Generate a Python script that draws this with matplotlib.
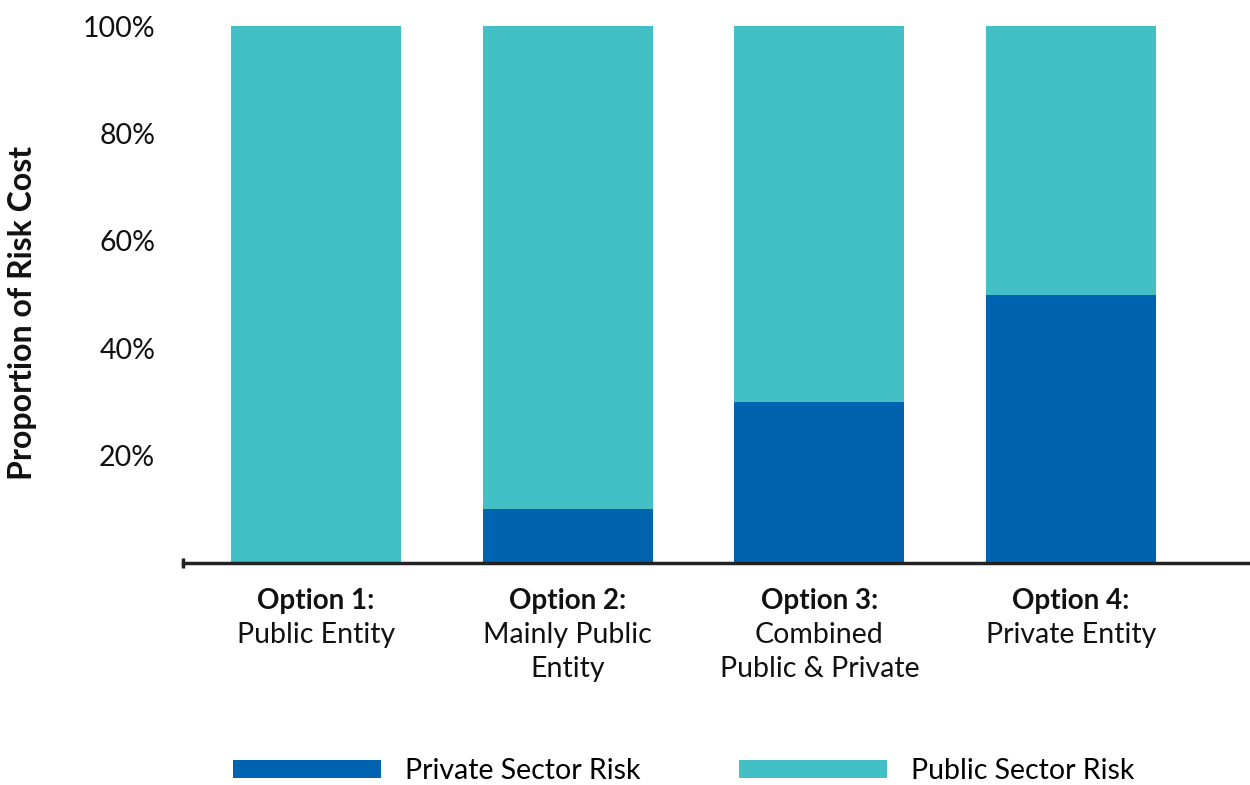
import numpy as np
import matplotlib.pyplot as plt
import matplotlib.transforms as mtransforms

plt.rcParams['font.family'] = ['Lato', 'DejaVu Sans']

# data
options = ["Option 1:", "Option 2:", "Option 3:", "Option 4:"]
descriptions = ["Public Entity", "Mainly Public\nEntity",
                "Combined\nPublic & Private", "Private Entity"]
private_risk = [0, 10, 30, 50]
public_risk = [100, 90, 70, 50]
yticks = [20, 40, 60, 80, 100]

private_color = "#0063AF"
public_color = "#42C0C6"

fig = plt.figure(figsize=(12.5, 7.85), dpi=100)
ax = fig.add_axes([0.1464, 0.2828, 0.8536, 0.684])

x = np.arange(len(options))
ax.bar(x, private_risk, width=0.675, color=private_color, label="Private Sector Risk")
ax.bar(x, public_risk, width=0.675, bottom=private_risk, color=public_color,
       label="Public Sector Risk")

ax.set_xlim(-0.528, 3.711)
ax.set_ylim(0, 100)
ax.set_yticks(yticks)
ax.set_yticklabels([f"{v}%" for v in yticks], fontsize=20.5, color="#111111")
ax.tick_params(axis='y', length=0, pad=20)
ax.set_xticks([])

for s in ['top', 'right', 'left']:
    ax.spines[s].set_visible(False)
ax.spines['bottom'].set_linewidth(2.5)
ax.spines['bottom'].set_color("#222222")
ax.plot([-0.528], [0], marker='|', markersize=7, markeredgewidth=2.5,
        color="#222222", clip_on=False)

ax.set_ylabel("Proportion of Risk Cost", fontsize=23, fontweight='bold',
              color="#111111")
ax.yaxis.set_label_coords(-0.137, 0.466)

# category labels
trans = mtransforms.blended_transform_factory(ax.transData, ax.transAxes)
for i in range(len(options)):
    ax.text(x[i], -0.071, options[i], transform=trans, ha='center', va='center',
            fontsize=20, fontweight='bold', color="#111111")
    for j, line in enumerate(descriptions[i].split("\n")):
        ax.text(x[i], -0.071 - 0.0633 * (j + 1), line, transform=trans,
                ha='center', va='center', fontsize=20.5, color="#111111")

fig.legend(loc='center', bbox_to_anchor=(0.547, 0.0175), ncol=2, frameon=False,
           fontsize=20.5, handlelength=5.2, handleheight=0.6, handletextpad=0.84,
           columnspacing=3.45, borderpad=0.2)

fig.savefig("out.png", dpi=100)
